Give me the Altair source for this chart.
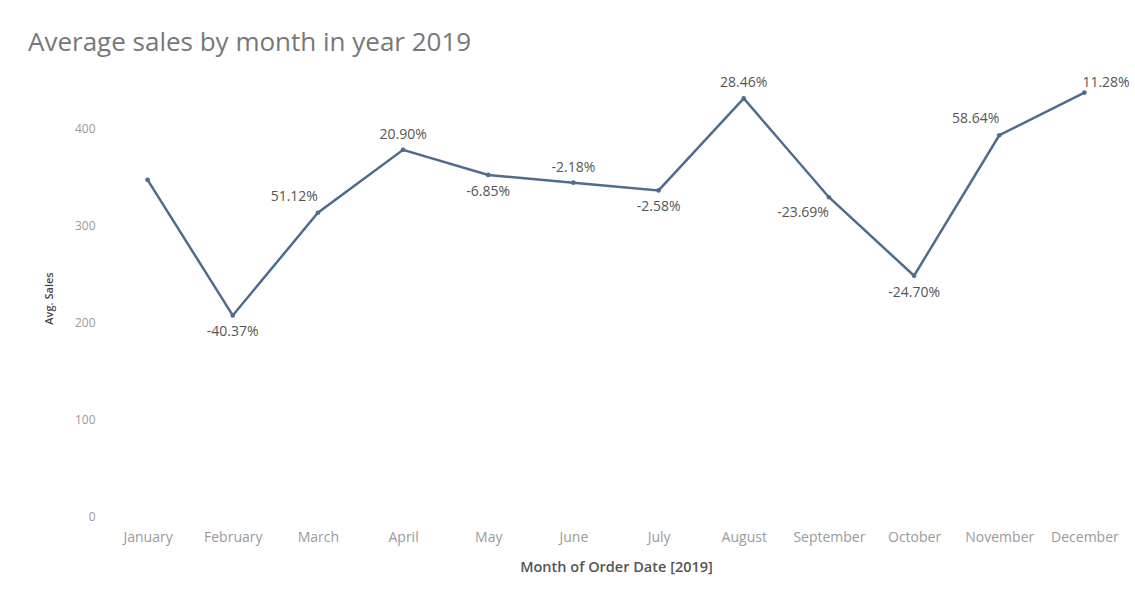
import altair as alt
import pandas as pd

months = ["January", "February", "March", "April", "May", "June", "July",
          "August", "September", "October", "November", "December"]
avg_sales = [347, 207, 313, 378, 352, 344, 336, 431, 329, 248, 393, 437]
pct_labels = ["", "-40.37%", "51.12%", "20.90%", "-6.85%", "-2.18%", "-2.58%",
              "28.46%", "-23.69%", "-24.70%", "58.64%", "11.28%"]
label_pos = ["none", "below", "upleft", "above", "below", "above", "below",
             "above", "downleft", "below", "upleft", "upright"]

df = pd.DataFrame({"month": months, "sales": avg_sales,
                   "label": pct_labels, "pos": label_pos})

LINE = "#4f6b8e"
FONT = "Open Sans"

x = alt.X("month:N", sort=months, scale=alt.Scale(type="point", padding=0.5),
          title="Month of Order Date [2019]",
          axis=alt.Axis(labelAngle=0, labelColor="#9a9a9a", labelFontSize=14,
                        labelFont=FONT, labelPadding=14, ticks=False,
                        domain=False, grid=False, titleColor="#555555",
                        titleFont=FONT, titleFontSize=14.5, titlePadding=16,
                        titleFontWeight=600))
y = alt.Y("sales:Q", scale=alt.Scale(domain=[0, 450], nice=False),
          title="Avg. Sales",
          axis=alt.Axis(values=[0, 100, 200, 300, 400], labelColor="#9a9a9a",
                        labelFont=FONT, labelFontSize=12, labelPadding=10,
                        ticks=False, domain=False, grid=False,
                        titleColor="#444444", titleFont=FONT, titleFontSize=11,
                        titlePadding=20, titleFontWeight=600))

base = alt.Chart(df).encode(x=x, y=y)

line = base.mark_line(color=LINE, strokeWidth=2.5)
points = base.mark_point(color=LINE, filled=True, size=22, opacity=1)

def text_layer(pos, align, dx, dy):
    return base.transform_filter(alt.datum.pos == pos).mark_text(
        align=align, dx=dx, dy=dy, fontSize=14, font=FONT, color="#555555"
    ).encode(text="label:N")

layers = [
    line, points,
    text_layer("above", "center", 0, -15),
    text_layer("below", "center", 0, 17),
    text_layer("upleft", "right", 0, -16),
    text_layer("downleft", "right", 0, 16),
    text_layer("upright", "left", -2, -10),
]

chart = alt.layer(*layers).properties(
    width=1022, height=436,
    title=alt.TitleParams("Average sales by month in year 2019", anchor="start",
                          frame="group", font=FONT, fontSize=26,
                          fontWeight="normal", color="#777777", dx=-77,
                          offset=20),
    autosize=alt.AutoSizeParams(type="none"),
    padding={"left": 105, "top": 80, "right": 8, "bottom": 81},
).configure(background="white").configure_view(strokeWidth=0)

chart.save("out.html", embed_options={"renderer": "svg", "actions": False})
